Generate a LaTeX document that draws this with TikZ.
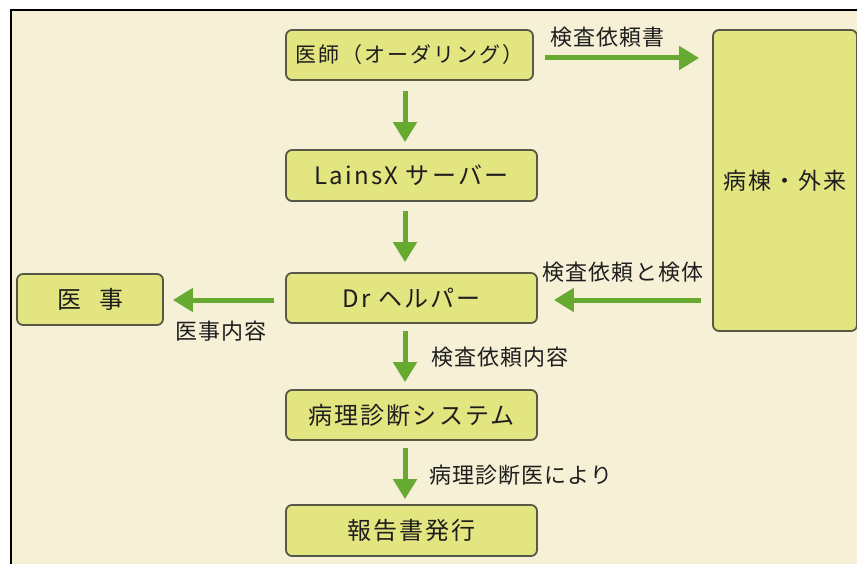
\documentclass[tikz,border=0pt]{standalone}
\usepackage{fontspec}
\usetikzlibrary{arrows.meta}
\newfontfamily\jpbox[LetterSpace=9]{Noto Sans CJK JP}
\newfontfamily\jplab[LetterSpace=5]{Noto Sans CJK JP}
\definecolor{cream}{RGB}{246,240,214}
\definecolor{boxfill}{RGB}{227,229,128}
\definecolor{boxline}{RGB}{88,88,72}
\definecolor{arrgreen}{RGB}{102,170,50}
\definecolor{txt}{RGB}{30,30,30}
\tikzset{
  x=1pt, y=-1pt,
  flowbox/.style={draw=boxline, line width=1.8pt, fill=boxfill, rounded corners=6pt,
    inner sep=0pt, text=txt, font=\jpbox\fontsize{24}{28}\selectfont},
  arr/.style={draw=arrgreen, line width=5pt, -{Triangle[length=20pt,width=23pt]}},
  lab/.style={inner sep=0pt, text=txt, font=\jplab\fontsize{22}{26}\selectfont},
}
\begin{document}
\begin{tikzpicture}
\useasboundingbox (0,0) rectangle (857,564);
\fill[white] (0,0) rectangle (857,564);
\fill[cream] (10,10) rectangle (857,564);
\draw[black, line width=2pt] (10.5,564) -- (10.5,10.5) -- (857,10.5);

\node[flowbox, minimum width=247pt, minimum height=50pt,
  font=\jpbox\fontsize{21}{25}\selectfont] (b1) at (409.5,55) {医師（オーダリング）};
\node[flowbox, minimum width=251pt, minimum height=51pt] (b2) at (411.5,175.5) {LainsX サーバー};
\node[flowbox, minimum width=251pt, minimum height=50pt] (b3) at (411.5,298) {Dr ヘルパー};
\node[flowbox, minimum width=251pt, minimum height=50pt] (b4) at (411.5,415) {病理診断システム};
\node[flowbox, minimum width=251pt, minimum height=51pt] (b5) at (411.5,530.5) {報告書発行};
\node[flowbox, minimum width=146pt, minimum height=51pt] (iji) at (90,299.5) {医\hspace{18pt}事};
\node[flowbox, minimum width=144pt, minimum height=301pt,
  font=\jpbox\fontsize{23}{27}\selectfont] (tall) at (785,180.5) {病棟・外来};

\draw[arr] ([xshift=-4.5pt,yshift=-10pt]b1.south) -- ([xshift=-6.5pt,yshift=7pt]b2.north);
\draw[arr] ([xshift=-6.5pt,yshift=-9pt]b2.south) -- ([xshift=-6.5pt,yshift=10pt]b3.north);
\draw[arr] ([xshift=-6.5pt,yshift=-7pt]b3.south) -- ([xshift=-6.5pt,yshift=7pt]b4.north);
\draw[arr] ([xshift=-6.5pt,yshift=-7pt]b4.south) -- ([xshift=-6.5pt,yshift=5pt]b5.north);

\draw[arr, shorten <=11pt, shorten >=13pt] ([yshift=-3pt]b1.east) -- ([yshift=-3pt]b1.east -| tall.west);
\draw[arr, shorten <=11pt, shorten >=16pt] ([yshift=-2pt]b3.east -| tall.west) -- ([yshift=-2pt]b3.east);
\draw[arr, shorten <=11pt, shorten >=9pt] ([yshift=-2pt]b3.west) -- ([yshift=-2pt]b3.west -| iji.east);

\node[lab] (l1) at (607.5,37) {検査依頼書};
\node[lab] (l2) at (623,272) {検査依頼と検体};
\node[lab] (l3) at (221,331) {医事内容};
\node[lab] (l4) at (500,357) {検査依頼内容};
\node[lab] (l5) at (521,475) {病理診断医により};
\end{tikzpicture}
\end{document}
